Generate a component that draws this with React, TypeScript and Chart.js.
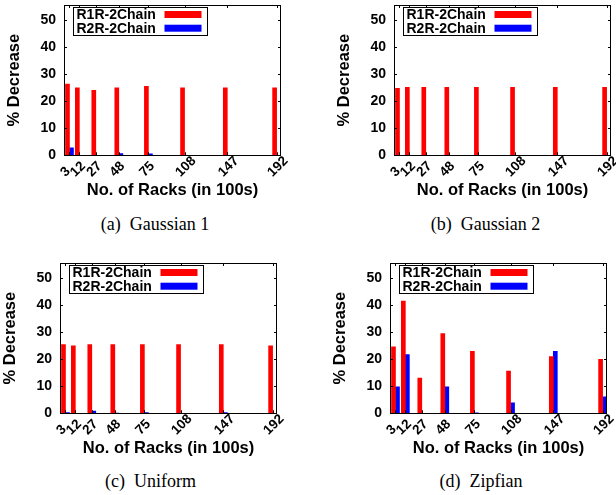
import React, { useEffect, useRef } from "react";
import { Chart, registerables } from "chart.js";

Chart.register(...registerables);

// ---------- data ----------
const RACKS = [3, 12, 27, 48, 75, 108, 147, 192];
const Y_TICKS = [0, 10, 20, 30, 40, 50];
const SERIES_LABELS = ["R1R-2Chain", "R2R-2Chain"];

const G1_R1R = [26.3, 25.0, 24.0, 25.0, 25.5, 25.0, 25.0, 25.0];
const G1_R2R = [2.8, 0, 0, 0.6, 0.5, 0, 0, 0];

const G2_R1R = [24.8, 25.1, 25.1, 25.1, 25.1, 25.1, 25.1, 25.1];
const G2_R2R = [0, 0, 0, 0, 0, 0, 0, 0];

const UN_R1R = [25.4, 25.0, 25.4, 25.4, 25.4, 25.4, 25.4, 25.0];
const UN_R2R = [0.3, 0, 0.8, 0.1, 0.3, 0, 0.3, 0];

const ZI_R1R = [24.6, 41.5, 13.0, 29.5, 22.9, 15.6, 21.0, 20.0];
const ZI_R2R = [9.8, 21.7, 0, 9.8, 0.2, 3.9, 22.9, 6.1];

const CAPTIONS = ["(a)  Gaussian 1", "(b)  Gaussian 2", "(c)  Uniform", "(d)  Zipfian"];

const COLORS = ["#ff0000", "#0000ff"];

const SANS = "'Liberation Sans', Arial, Helvetica, sans-serif";

const CANVAS_W = 290;
const CANVAS_H = 205;

type PanelProps = {
  left: number;
  top: number;
  r1: number[];
  r2: number[];
};

function Panel({ left, top, r1, r2 }: PanelProps) {
  const ref = useRef<HTMLCanvasElement | null>(null);

  useEffect(() => {
    const canvas = ref.current;
    if (!canvas) return;

    const framePlugin = {
      id: "gnuFrame",
      afterDraw(chart: any) {
        const { ctx, chartArea } = chart;
        const xs = chart.scales.x;
        const ys = chart.scales.y;
        const l = chartArea.left;
        const r = chartArea.right;
        const t = chartArea.top;
        const b = chartArea.bottom;
        ctx.save();
        ctx.strokeStyle = "#000";
        ctx.lineWidth = 1;
        // frame
        ctx.strokeRect(Math.round(l) + 0.5, Math.round(t) + 0.5, Math.round(r - l) - 1, Math.round(b - t));
        // inward ticks
        ctx.beginPath();
        ys.ticks.forEach((tk: any) => {
          const py = Math.round(ys.getPixelForValue(tk.value)) + 0.5;
          ctx.moveTo(l, py);
          ctx.lineTo(l + 3, py);
          ctx.moveTo(r, py);
          ctx.lineTo(r - 3, py);
        });
        xs.ticks.forEach((tk: any) => {
          const px = Math.round(xs.getPixelForValue(tk.value)) + 0.5;
          ctx.moveTo(px, b);
          ctx.lineTo(px, b - 3);
          ctx.moveTo(px, t);
          ctx.lineTo(px, t + 3);
        });
        ctx.stroke();

        // x tick labels, rotated 45 deg, left-justified (gnuplot style)
        ctx.fillStyle = "#000";
        ctx.font = `bold 13.5px ${SANS}`;
        ctx.textAlign = "left";
        ctx.textBaseline = "alphabetic";
        xs.ticks.forEach((tk: any) => {
          const px = xs.getPixelForValue(tk.value);
          ctx.save();
          ctx.translate(px - 4, b + 22);
          ctx.rotate(-Math.PI / 4);
          ctx.fillText(String(tk.value), 0, 0);
          ctx.restore();
        });

        // legend box (gnuplot style: label left, sample right)
        const bx = l + 8.5;
        const by = t + 2;
        const bw = 134;
        const bh = 28;
        ctx.strokeRect(Math.round(bx) + 0.5, Math.round(by) + 0.5, bw, bh);
        ctx.font = `bold 14px ${SANS}`;
        ctx.textBaseline = "middle";
        chart.data.datasets.forEach((ds: any, i: number) => {
          const cy = by + 7.5 + i * 13.7;
          ctx.fillStyle = "#000";
          ctx.fillText(ds.label, bx + 4, cy + 0.5);
          ctx.fillStyle = ds.backgroundColor;
          ctx.fillRect(bx + 92, cy - 3.5, 37, 7);
        });
        ctx.restore();
      },
    };

    const chart = new Chart(canvas, {
      type: "bar",
      data: {
        datasets: [
          {
            label: SERIES_LABELS[0],
            data: RACKS.map((x, i) => ({ x, y: r1[i] })),
            backgroundColor: COLORS[0],
            borderWidth: 0,
            barThickness: 4,
          },
          {
            label: SERIES_LABELS[1],
            data: RACKS.map((x, i) => ({ x, y: r2[i] })),
            backgroundColor: COLORS[1],
            borderWidth: 0,
            barThickness: 4,
          },
        ],
      },
      options: {
        responsive: false,
        animation: false,
        events: [],
        layout: { padding: { top: 5, right: 13, bottom: 0, left: 0 } },
        plugins: {
          legend: { display: false },
          tooltip: { enabled: false },
        },
        scales: {
          x: {
            type: "linear",
            min: -2,
            max: 196,
            offset: false,
            grid: { display: false },
            border: { display: false },
            ticks: { display: false },
            afterBuildTicks: (s: any) => {
              s.ticks = RACKS.map((v) => ({ value: v }));
            },
            afterFit: (s: any) => {
              s.height = CANVAS_H - 5 - 150.3;
              s.paddingLeft = 0;
              s.paddingRight = 0;
            },
            title: {
              display: true,
              text: "No. of Racks (in 100s)",
              color: "#000",
              font: { family: SANS, weight: "bold", size: 16.5 },
              padding: { top: 0, bottom: 5 },
            },
          },
          y: {
            type: "linear",
            min: 0,
            max: 55.6,
            grid: { display: false, drawTicks: false },
            border: { display: false },
            ticks: {
              color: "#000",
              font: { family: SANS, weight: "bold", size: 14 },
              padding: 8,
            },
            afterBuildTicks: (s: any) => {
              s.ticks = Y_TICKS.map((v) => ({ value: v }));
            },
            afterFit: (s: any) => {
              s.width = 60;
              s.paddingTop = 0;
              s.paddingBottom = 0;
            },
            title: {
              display: true,
              text: "% Decrease",
              color: "#000",
              font: { family: SANS, weight: "bold", size: 16.5 },
              padding: { top: 1, bottom: 0 },
            },
          },
        },
      } as any,
      plugins: [framePlugin],
    });

    return () => chart.destroy();
  }, [r1, r2]);

  return (
    <canvas
      ref={ref}
      width={CANVAS_W}
      height={CANVAS_H}
      style={{ position: "absolute", left, top, width: CANVAS_W, height: CANVAS_H }}
    />
  );
}

function Caption({ text, cx, cy }: { text: string; cx: number; cy: number }) {
  return (
    <div
      style={{
        position: "absolute",
        left: cx,
        top: cy,
        transform: "translate(-50%, -50%)",
        fontFamily: "'Liberation Serif', 'Times New Roman', serif",
        fontSize: 18,
        whiteSpace: "pre",
        color: "#000",
        lineHeight: 1,
      }}
    >
      {text}
    </div>
  );
}

export default function App() {
  return (
    <div
      style={{
        position: "absolute",
        left: 0,
        top: 0,
        width: 616,
        height: 495,
        overflow: "hidden",
        background: "#fff",
      }}
    >
      <Panel left={4} top={0} r1={G1_R1R} r2={G1_R2R} />
      <Panel left={334} top={0} r1={G2_R1R} r2={G2_R2R} />
      <Panel left={0} top={258.3} r1={UN_R1R} r2={UN_R2R} />
      <Panel left={330} top={258.3} r1={ZI_R1R} r2={ZI_R2R} />
      <Caption text={CAPTIONS[0]} cx={155} cy={224} />
      <Caption text={CAPTIONS[1]} cx={485.5} cy={224} />
      <Caption text={CAPTIONS[2]} cx={150.5} cy={481} />
      <Caption text={CAPTIONS[3]} cx={481} cy={481} />
    </div>
  );
}
